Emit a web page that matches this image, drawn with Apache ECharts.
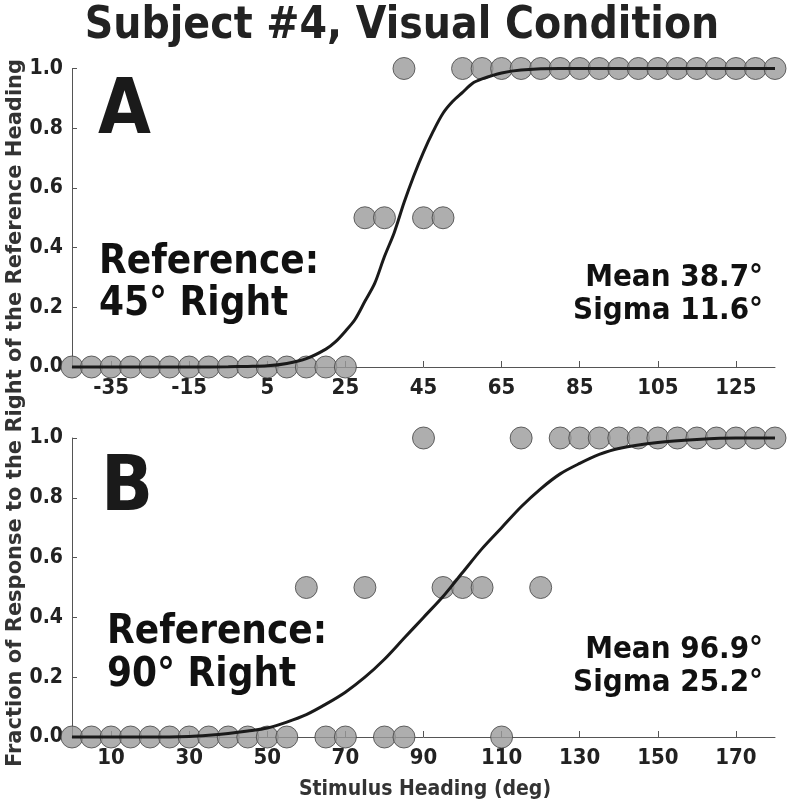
<!DOCTYPE html>
<html>
<head>
<meta charset="utf-8">
<style>
  html, body { margin: 0; padding: 0; background: #fff; }
  #chart { width: 793px; height: 807px; }
</style>
<script src="https://cdn.jsdelivr.net/npm/echarts@6/dist/echarts.min.js"></script>
</head>
<body>
<div id="chart"></div>
<script>
// ---- Panel A (reference 45° right) ----
const headingsA = [-45,-40,-35,-30,-25,-20,-15,-10,-5,0,5,10,15,20,25,30,35,40,45,50,55,60,65,70,75,80,85,90,95,100,105,110,115,120,125,130,135];
const responsesA = [0,0,0,0,0,0,0,0,0,0,0,0,0,0,0,0.5,0.5,1,0.5,0.5,1,1,1,1,1,1,1,1,1,1,1,1,1,1,1,1,1];
const fitXA = [-45,-30,-15,-5,0,5,10,15,20,22.5,25,27.5,30,32.5,35,37.5,40,42.5,45,47.5,50,52.5,55,57.5,60,65,70,80,100,135];
const fitYA = [0,0,0,0.001,0.002,0.004,0.012,0.028,0.06,0.085,0.12,0.16,0.22,0.28,0.37,0.45,0.55,0.64,0.72,0.79,0.85,0.89,0.92,0.95,0.965,0.985,0.995,1,1,1];
const ticksA = [-35,-15,5,25,45,65,85,105,125];

// ---- Panel B (reference 90° right) ----
const headingsB = [0,5,10,15,20,25,30,35,40,45,50,55,60,65,70,75,80,85,90,95,100,105,110,115,120,125,130,135,140,145,150,155,160,165,170,175,180];
const responsesB = [0,0,0,0,0,0,0,0,0,0,0,0,0.5,0,0,0.5,0,0,1,0.5,0.5,0.5,0,1,0.5,1,1,1,1,1,1,1,1,1,1,1,1];
const fitXB = [0,20,30,35,40,45,50,55,60,65,70,75,80,85,90,95,100,105,110,115,120,125,130,135,140,150,160,170,180];
const fitYB = [0,0,0.002,0.006,0.012,0.02,0.03,0.05,0.075,0.11,0.15,0.2,0.26,0.33,0.4,0.47,0.55,0.63,0.7,0.77,0.83,0.88,0.915,0.945,0.965,0.985,0.995,1,1];
const ticksB = [10,30,50,70,90,110,130,150,170];

const COND = '"Liberation Sans Narrow","DejaVu Sans Condensed","Arial Narrow",sans-serif';
const WIDE = '"DejaVu Sans","Liberation Sans",sans-serif';

function zip(a, b) { return a.map((v, i) => [v, b[i]]); }

function xAxisCfg(gridIndex, min, max, ticks) {
  return {
    type: 'value', gridIndex, min, max,
    axisLine: { show: true, onZero: false, lineStyle: { color: '#555', width: 1 } },
    axisTick: { show: true, inside: true, length: 6, customValues: ticks, lineStyle: { color: '#555' } },
    axisLabel: { customValues: ticks, color: '#222', fontFamily: COND, fontWeight: 'bold', fontSize: 22, margin: 10 },
    splitLine: { show: false }
  };
}
function yAxisCfg(gridIndex) {
  return {
    type: 'value', gridIndex, min: 0, max: 1, interval: 0.2,
    axisLine: { show: true, onZero: false, lineStyle: { color: '#555', width: 1 } },
    axisTick: { show: true, inside: true, length: 5, lineStyle: { color: '#555' } },
    axisLabel: { color: '#222', fontFamily: COND, fontWeight: 'bold', fontSize: 21, margin: 9,
      formatter: v => v.toFixed(1) },
    splitLine: { show: false }
  };
}

const scatterStyle = { color: '#9a9a9a', borderColor: '#444', borderWidth: 1 };

const chart = echarts.init(document.getElementById('chart'), null, { renderer: 'canvas' });

function txt(x, y, text, size, opts) {
  return {
    type: 'text', x, y, z: 100,
    style: Object.assign({ text, fill: '#111', font: 'bold ' + size + 'px ' + COND, textVerticalAlign: 'middle' }, opts || {})
  };
}

chart.setOption({
  animation: false,
  backgroundColor: '#fff',
  grid: [
    { left: 72, right: 18, top: 68.5, height: 298.5 },
    { left: 72, right: 18, top: 438, height: 299 }
  ],
  xAxis: [ xAxisCfg(0, -45, 135, ticksA), xAxisCfg(1, 0, 180, ticksB) ],
  yAxis: [ yAxisCfg(0), yAxisCfg(1) ],
  series: [
    { type: 'scatter', xAxisIndex: 0, yAxisIndex: 0, data: zip(headingsA, responsesA), symbolSize: 22, itemStyle: scatterStyle, clip: false, z: 2 },
    { type: 'line', xAxisIndex: 0, yAxisIndex: 0, data: zip(fitXA, fitYA), smooth: 0.3, showSymbol: false, lineStyle: { color: '#1a1a1a', width: 3 }, clip: false, z: 3 },
    { type: 'scatter', xAxisIndex: 1, yAxisIndex: 1, data: zip(headingsB, responsesB), symbolSize: 22, itemStyle: scatterStyle, clip: false, z: 2 },
    { type: 'line', xAxisIndex: 1, yAxisIndex: 1, data: zip(fitXB, fitYB), smooth: 0.3, showSymbol: false, lineStyle: { color: '#1a1a1a', width: 3 }, clip: false, z: 3 }
  ],
  graphic: [
    txt(402, 27, 'Subject #4, Visual Condition', 44, { textAlign: 'center', fill: '#222' }),
    txt(98, 113, 'A', 76, { fill: '#1a1a1a' }),
    txt(101, 490, 'B', 76, { fill: '#1a1a1a' }),
    txt(99, 263, 'Reference:', 40),
    txt(99, 305, '45° Right', 40),
    txt(107, 633, 'Reference:', 40),
    txt(107, 676, '90° Right', 40),
    txt(763, 278, 'Mean 38.7°', 31, { textAlign: 'right' }),
    txt(763, 311, 'Sigma 11.6°', 31, { textAlign: 'right' }),
    txt(763, 650, 'Mean 96.9°', 31, { textAlign: 'right' }),
    txt(763, 683, 'Sigma 25.2°', 31, { textAlign: 'right' }),
    txt(425, 790, 'Stimulus Heading (deg)', 21, { textAlign: 'center', fill: '#333' }),
    { type: 'text', x: 16, y: 413, rotation: Math.PI / 2, z: 100,
      style: { text: 'Fraction of Response to the Right of the Reference Heading', fill: '#333',
        font: 'bold 21px ' + WIDE, textAlign: 'center', textVerticalAlign: 'middle' } }
  ]
});
</script>
</body>
</html>
